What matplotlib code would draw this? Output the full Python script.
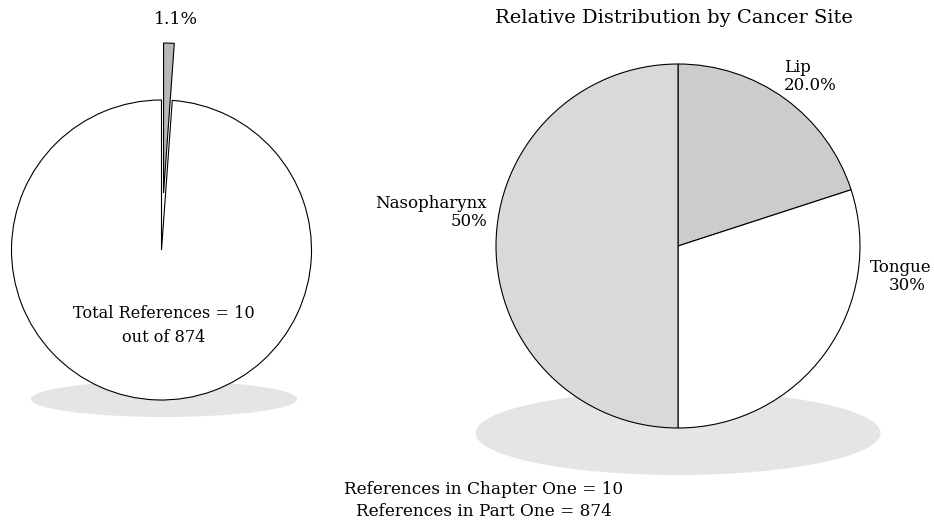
import matplotlib.pyplot as plt
from matplotlib.patches import Ellipse

# data
part_labels = ["Chapter One", "Rest of Part One"]
part_counts = [10, 864]
site_labels = ["Lip", "Tongue", "Nasopharynx"]
site_shares = [20.0, 30.0, 50.0]
site_pct_text = ["20.0%", "30%", "50%"]
site_colors = ["#cccccc", "#ffffff", "#d9d9d9"]

W, H = 934, 527
plt.rcParams['font.family'] = ['DejaVu Serif']

fig = plt.figure(figsize=(W / 100, H / 100), dpi=100)
ax = fig.add_axes([0, 0, 1, 1])

# shadows
ax.add_patch(Ellipse((164, 128), 266, 36, color="#e5e5e5", lw=0, zorder=0))
ax.add_patch(Ellipse((678, 94), 405, 84, color="#e5e5e5", lw=0, zorder=0))

# left pie: share of Part One (explode is in data units here)
ax.pie(part_counts, center=(161.5, 277), radius=150, startangle=90,
       counterclock=False, explode=[57, 0], colors=["#b8b8b8", "white"],
       wedgeprops=dict(edgecolor="black", linewidth=0.8), frame=True)
pct = part_counts[0] / sum(part_counts) * 100
ax.text(176, 507, f"{pct:.1f}%", ha='center', va='center', fontsize=12.5)
ax.text(164, 213, f"Total References = {part_counts[0]}", ha='center', va='center', fontsize=11.6)
ax.text(164, 190, f"out of {sum(part_counts)}", ha='center', va='center', fontsize=11.6)

# right pie: distribution by site
ax.pie(site_shares, center=(678, 281), radius=182, startangle=90,
       counterclock=False, colors=site_colors,
       wedgeprops=dict(edgecolor="black", linewidth=0.8), frame=True)
ax.set_xlim(0, W)
ax.set_ylim(0, H)
ax.set_aspect('equal')
ax.axis('off')

ax.text(674, 509, "Relative Distribution by Cancer Site", ha='center', va='center', fontsize=14)
ax.text(784, 459, site_labels[0], ha='left', va='center', fontsize=12)
ax.text(784, 441, site_pct_text[0], ha='left', va='center', fontsize=12)
ax.text(932, 260, site_labels[1], ha='right', va='center', fontsize=12)
ax.text(926, 241, site_pct_text[1], ha='right', va='center', fontsize=12)
ax.text(487, 324, site_labels[2], ha='right', va='center', fontsize=12)
ax.text(487, 305, site_pct_text[2], ha='right', va='center', fontsize=12)

ax.text(484, 37, f"References in Chapter One = {part_counts[0]}", ha='center', va='center', fontsize=12.2)
ax.text(484, 15, f"References in Part One = {sum(part_counts)}", ha='center', va='center', fontsize=12.2)

fig.savefig("out.png", dpi=100, facecolor="white")
